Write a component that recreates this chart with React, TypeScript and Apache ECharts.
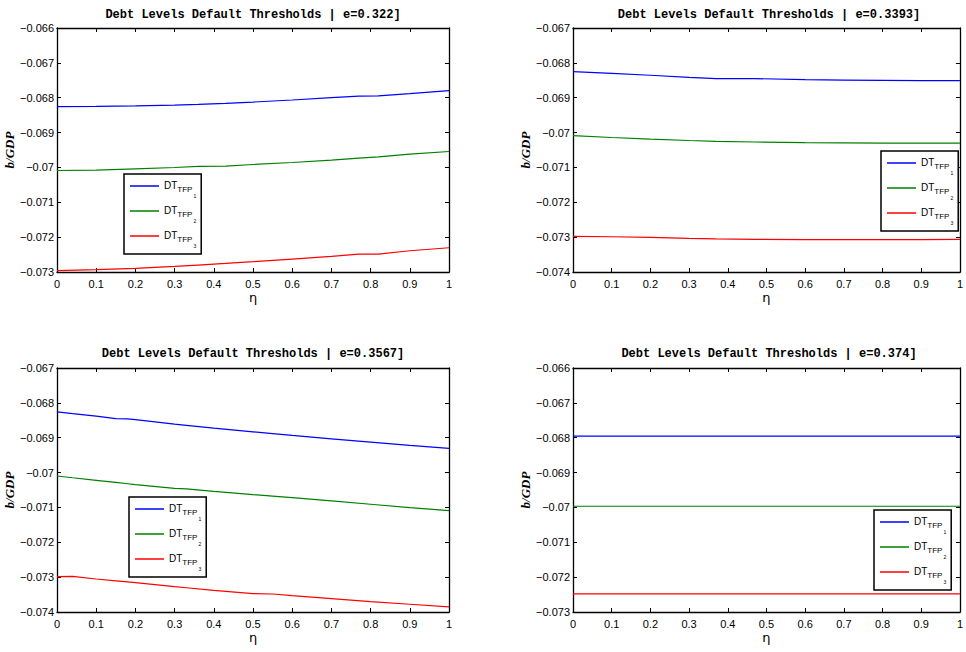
import React, { useEffect, useRef } from "react";
import * as echarts from "echarts";

// ---------- data ----------
const panelTitles = [
  "Debt Levels Default Thresholds | e=0.322]",
  "Debt Levels Default Thresholds | e=0.3393]",
  "Debt Levels Default Thresholds | e=0.3567]",
  "Debt Levels Default Thresholds | e=0.374]",
];
const seriesNames = ["DT_TFP_1", "DT_TFP_2", "DT_TFP_3"];
const legendMain = "DT";
const legendSub = "TFP";
const legendIdx = ["1", "2", "3"];
const seriesColors = ["#0000ff", "#008000", "#ff0000"];

const yMins = [-0.073, -0.074, -0.074, -0.073];
const yMaxs = [-0.066, -0.067, -0.067, -0.066];

// panel 1 (e=0.322)
const eta1 = [0, 0.1, 0.2, 0.3, 0.36, 0.43, 0.5, 0.6, 0.7, 0.77, 0.82, 0.9, 1];
const p1Blue = [-0.068254, -0.06825, -0.068235, -0.06821, -0.06819, -0.06816, -0.068125, -0.068065, -0.067998, -0.067955, -0.06795, -0.067885, -0.067796];
const p1Green = [-0.070088, -0.070075, -0.07004, -0.070002, -0.069968, -0.069964, -0.069916, -0.069859, -0.069792, -0.069735, -0.0697, -0.06962, -0.069543];
const p1Red = [-0.072963, -0.072934, -0.072896, -0.072839, -0.0728, -0.072755, -0.072705, -0.072628, -0.072552, -0.07249, -0.072485, -0.07239, -0.072304];

// panel 2 (e=0.3393)
const eta2 = [0, 0.1, 0.2, 0.3, 0.37, 0.47, 0.6, 0.7, 0.8, 0.9, 1];
const p2Blue = [-0.068251, -0.068299, -0.068356, -0.068414, -0.068452, -0.068452, -0.06848, -0.068495, -0.068505, -0.068509, -0.068509];
const p2Green = [-0.070085, -0.070142, -0.07019, -0.070228, -0.07025, -0.07027, -0.07029, -0.070298, -0.070303, -0.070305, -0.070305];
const p2Red = [-0.072979, -0.072989, -0.073005, -0.073036, -0.07305, -0.073062, -0.073074, -0.073074, -0.073074, -0.07307, -0.073065];

// panel 3 (e=0.3567)
const eta3 = [0, 0.04, 0.1, 0.15, 0.18, 0.2, 0.3, 0.33, 0.4, 0.5, 0.55, 0.6, 0.7, 0.8, 0.9, 1];
const p3Blue = [-0.068258, -0.06831, -0.068382, -0.06845, -0.068459, -0.06848, -0.068611, -0.068645, -0.068725, -0.06883, -0.068882, -0.068935, -0.069031, -0.069126, -0.069221, -0.069307];
const p3Green = [-0.070098, -0.070148, -0.070222, -0.070284, -0.070321, -0.070346, -0.070455, -0.070465, -0.070537, -0.070632, -0.070675, -0.070718, -0.070813, -0.070909, -0.071004, -0.07109];
const p3Red = [-0.072987, -0.072977, -0.073053, -0.073105, -0.073137, -0.073158, -0.073273, -0.073305, -0.073378, -0.073473, -0.073483, -0.07353, -0.073616, -0.073702, -0.073778, -0.073854];

// panel 4 (e=0.374)
const eta4 = [0, 1];
const p4Blue = [-0.067954, -0.067954];
const p4Green = [-0.069966, -0.069966];
const p4Red = [-0.072482, -0.072482];

const panelEta = [eta1, eta2, eta3, eta4];
const panelValues = [
  [p1Blue, p1Green, p1Red],
  [p2Blue, p2Green, p2Red],
  [p3Blue, p3Green, p3Red],
  [p4Blue, p4Green, p4Red],
];

// ---------- layout ----------
const grids = [
  { left: 57, top: 28, width: 392, height: 244 },
  { left: 573, top: 28, width: 392, height: 244 },
  { left: 57, top: 368, width: 392, height: 244 },
  { left: 573, top: 368, width: 392, height: 244 },
];
const legendPos = [
  { left: 124, top: 174 },
  { left: 881, top: 151 },
  { left: 129, top: 497 },
  { left: 874, top: 510 },
];
const titleTops = [9, 9, 348, 348];

const fmtY = (v: number) => {
  let s = v.toFixed(3).replace(/0+$/, "").replace(/\.$/, "");
  return s.replace("-", "\u2212");
};
const fmtX = (v: number) => {
  let s = v.toFixed(1).replace(/\.0$/, "");
  return s;
};

export default function App() {
  const ref = useRef<HTMLDivElement>(null);
  useEffect(() => {
    if (!ref.current) return;
    const chart = echarts.init(ref.current, undefined, { renderer: "svg" });
    const tickFont = { fontFamily: "Liberation Sans", fontSize: 11, color: "#000" };
    const xAxis: any[] = [];
    const yAxis: any[] = [];
    const series: any[] = [];
    const legend: any[] = [];
    const title: any[] = [];
    grids.forEach((g, i) => {
      // bottom x
      xAxis.push({
        type: "value", gridIndex: i, min: 0, max: 1, interval: 0.1,
        name: "\u03b7", nameLocation: "middle", nameGap: 19,
        nameTextStyle: { fontFamily: "DejaVu Sans", fontSize: 13, color: "#000" },
        axisLine: { show: true, onZero: false, lineStyle: { color: "#000", width: 1.3 } },
        axisTick: { show: true, inside: true, length: 4, lineStyle: { color: "#000" } },
        axisLabel: { ...tickFont, margin: 6, formatter: fmtX },
        splitLine: { show: false },
      });
      // top x (mirror)
      xAxis.push({
        type: "value", gridIndex: i, min: 0, max: 1, interval: 0.1, position: "top",
        axisLine: { show: true, onZero: false, lineStyle: { color: "#000", width: 1.3 } },
        axisTick: { show: true, inside: true, length: 4, lineStyle: { color: "#000" } },
        axisLabel: { show: false },
        splitLine: { show: false },
      });
      yAxis.push({
        type: "value", gridIndex: i, min: yMins[i], max: yMaxs[i], interval: 0.001,
        name: "b/GDP", nameLocation: "middle", nameGap: 38,
        nameTextStyle: { fontFamily: "Liberation Serif", fontStyle: "italic", fontWeight: "bold", fontSize: 13, color: "#000" },
        axisLine: { show: true, onZero: false, lineStyle: { color: "#000", width: 1.3 } },
        axisTick: { show: true, inside: true, length: 4, lineStyle: { color: "#000" } },
        axisLabel: { ...tickFont, margin: 3, formatter: fmtY },
        splitLine: { show: false },
      });
      yAxis.push({
        type: "value", gridIndex: i, min: yMins[i], max: yMaxs[i], interval: 0.001, position: "right",
        axisLine: { show: true, onZero: false, lineStyle: { color: "#000", width: 1.3 } },
        axisTick: { show: true, inside: true, length: 4, lineStyle: { color: "#000" } },
        axisLabel: { show: false },
        splitLine: { show: false },
      });
      const eta = panelEta[i];
      panelValues[i].forEach((vals, k) => {
        series.push({
          type: "line", name: seriesNames[k],
          xAxisIndex: i * 2, yAxisIndex: i * 2,
          data: eta.map((x, j) => [x, vals[j]]),
          showSymbol: false, symbol: "none",
          lineStyle: { color: seriesColors[k], width: 1.2 },
          itemStyle: { color: seriesColors[k] },
          z: 3,
        });
      });
      legend.push({
        data: seriesNames,
        orient: "vertical",
        left: legendPos[i].left, top: legendPos[i].top,
        backgroundColor: "#fff",
        borderColor: "#000", borderWidth: 1.5, borderRadius: 0,
        padding: [6, 5, 6, 6],
        itemGap: 7,
        itemWidth: 29, itemHeight: 1.5,
        icon: "rect",
        selectedMode: false,
        z: 10,
        formatter: (name: string) => {
          const k = seriesNames.indexOf(name);
          return `{m|${legendMain}}{s|${legendSub}}{ss|${legendIdx[k]}}`;
        },
        textStyle: {
          color: "#000",
          fontFamily: "Liberation Sans",
          rich: {
            m: { fontSize: 10, fontFamily: "Liberation Sans", color: "#000", lineHeight: 12, verticalAlign: "top" },
            s: { fontSize: 8, fontFamily: "Liberation Sans", color: "#000", lineHeight: 10, padding: [5, 0, 0, 0], verticalAlign: "top" },
            ss: { fontSize: 5, fontFamily: "Liberation Sans", color: "#000", lineHeight: 6, padding: [13, 0, 0, 1], verticalAlign: "top" },
          },
        },
      });
      title.push({
        text: panelTitles[i],
        left: g.left + g.width / 2,
        top: titleTops[i],
        textAlign: "center",
        padding: 0,
        textStyle: { fontFamily: "Liberation Mono", fontWeight: "bold", fontSize: 12, color: "#000" },
      });
    });
    chart.setOption({
      animation: false,
      backgroundColor: "#fff",
      title,
      legend,
      grid: grids.map((g) => ({ ...g, containLabel: false })),
      xAxis,
      yAxis,
      series,
    });
    return () => chart.dispose();
  }, []);
  return (
    <div
      ref={ref}
      style={{ position: "fixed", left: 0, top: 0, width: 966, height: 652 }}
    />
  );
}
